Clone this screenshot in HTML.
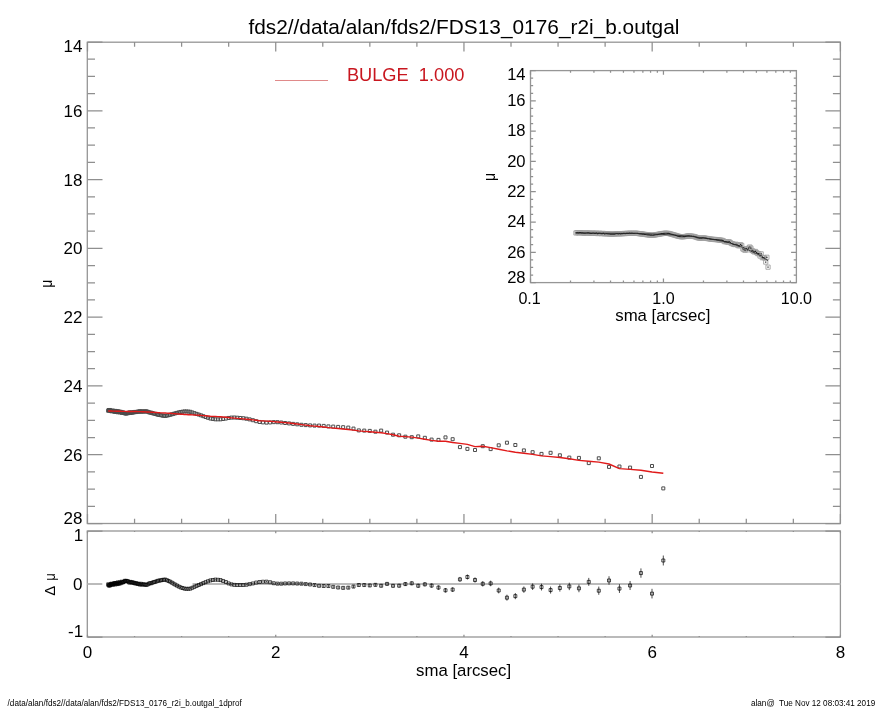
<!DOCTYPE html><html><head><meta charset="utf-8"><style>html,body{margin:0;padding:0;background:#fff;}svg{display:block}text{font-family:"Liberation Sans",Arial,Helvetica,sans-serif;}</style></head><body>
<svg width="885" height="708" viewBox="0 0 885 708">
<rect width="885" height="708" fill="#fff"/>
<rect x="87.3" y="42.2" width="753.1" height="481.3" stroke="#969696" stroke-width="1.3" fill="none"/>
<rect x="87.3" y="531" width="753.1" height="106" stroke="#969696" stroke-width="1.3" fill="none"/>
<path d="M87.5 523.5V513.9M87.5 42V51.6M134.56 523.5V518.7M134.56 42V46.8M181.61 523.5V518.7M181.61 42V46.8M228.67 523.5V518.7M228.67 42V46.8M275.73 523.5V513.9M275.73 42V51.6M322.78 523.5V518.7M322.78 42V46.8M369.84 523.5V518.7M369.84 42V46.8M416.89 523.5V518.7M416.89 42V46.8M463.95 523.5V513.9M463.95 42V51.6M511.01 523.5V518.7M511.01 42V46.8M558.06 523.5V518.7M558.06 42V46.8M605.12 523.5V518.7M605.12 42V46.8M652.17 523.5V513.9M652.17 42V51.6M699.23 523.5V518.7M699.23 42V46.8M746.29 523.5V518.7M746.29 42V46.8M793.34 523.5V518.7M793.34 42V46.8M840.4 523.5V513.9M840.4 42V51.6M87.5 42H102.5M840.4 42H825.4M87.5 59.2H95M840.4 59.2H832.9M87.5 76.39H95M840.4 76.39H832.9M87.5 93.59H95M840.4 93.59H832.9M87.5 110.79H102.5M840.4 110.79H825.4M87.5 127.98H95M840.4 127.98H832.9M87.5 145.18H95M840.4 145.18H832.9M87.5 162.38H95M840.4 162.38H832.9M87.5 179.57H102.5M840.4 179.57H825.4M87.5 196.77H95M840.4 196.77H832.9M87.5 213.96H95M840.4 213.96H832.9M87.5 231.16H95M840.4 231.16H832.9M87.5 248.36H102.5M840.4 248.36H825.4M87.5 265.55H95M840.4 265.55H832.9M87.5 282.75H95M840.4 282.75H832.9M87.5 299.95H95M840.4 299.95H832.9M87.5 317.14H102.5M840.4 317.14H825.4M87.5 334.34H95M840.4 334.34H832.9M87.5 351.54H95M840.4 351.54H832.9M87.5 368.73H95M840.4 368.73H832.9M87.5 385.93H102.5M840.4 385.93H825.4M87.5 403.13H95M840.4 403.13H832.9M87.5 420.32H95M840.4 420.32H832.9M87.5 437.52H95M840.4 437.52H832.9M87.5 454.71H102.5M840.4 454.71H825.4M87.5 471.91H95M840.4 471.91H832.9M87.5 489.11H95M840.4 489.11H832.9M87.5 506.3H95M840.4 506.3H832.9M87.5 523.5H102.5M840.4 523.5H825.4M87.5 637V634.8M87.5 531V533.2M134.56 637V635.9M134.56 531V532.1M181.61 637V635.9M181.61 531V532.1M228.67 637V635.9M228.67 531V532.1M275.73 637V634.8M275.73 531V533.2M322.78 637V635.9M322.78 531V532.1M369.84 637V635.9M369.84 531V532.1M416.89 637V635.9M416.89 531V532.1M463.95 637V634.8M463.95 531V533.2M511.01 637V635.9M511.01 531V532.1M558.06 637V635.9M558.06 531V532.1M605.12 637V635.9M605.12 531V532.1M652.17 637V634.8M652.17 531V533.2M699.23 637V635.9M699.23 531V532.1M746.29 637V635.9M746.29 531V532.1M793.34 637V635.9M793.34 531V532.1M840.4 637V634.8M840.4 531V533.2M87.5 531H102.5M840.4 531H825.4M87.5 637H102.5M840.4 637H825.4" stroke="#8f8f8f" stroke-width="1.25" fill="none"/>
<text x="82.5" y="51.6" font-size="17" text-anchor="end">14</text>
<text x="82.5" y="116.8" font-size="17" text-anchor="end">16</text>
<text x="82.5" y="185.6" font-size="17" text-anchor="end">18</text>
<text x="82.5" y="254.3" font-size="17" text-anchor="end">20</text>
<text x="82.5" y="323.1" font-size="17" text-anchor="end">22</text>
<text x="82.5" y="391.9" font-size="17" text-anchor="end">24</text>
<text x="82.5" y="460.6" font-size="17" text-anchor="end">26</text>
<text x="82.5" y="524.0" font-size="17" text-anchor="end">28</text>
<text x="87.5" y="657.8" font-size="17" text-anchor="middle">0</text>
<text x="275.73" y="657.8" font-size="17" text-anchor="middle">2</text>
<text x="463.95" y="657.8" font-size="17" text-anchor="middle">4</text>
<text x="652.17" y="657.8" font-size="17" text-anchor="middle">6</text>
<text x="840.4" y="657.8" font-size="17" text-anchor="middle">8</text>
<text x="463.6" y="676" font-size="16.8" text-anchor="middle">sma [arcsec]</text>
<text x="83.2" y="540.6" font-size="17" text-anchor="end">1</text>
<text x="82.5" y="590.3" font-size="17" text-anchor="end">0</text>
<text x="83.2" y="636.9" font-size="17" text-anchor="end">-1</text>
<text transform="translate(51.6,283.6) rotate(-90) scale(0.85,1)" font-size="16.5" text-anchor="middle">μ</text>
<text transform="translate(55.1,590.8) rotate(-90)" font-size="15" text-anchor="middle">Δ</text>
<text transform="translate(55.0,576.9) rotate(-90) scale(0.85,1)" font-size="15.5" text-anchor="middle">μ</text>
<text x="248.4" y="33.7" font-size="20.9" textLength="431" lengthAdjust="spacingAndGlyphs">fds2//data/alan/fds2/FDS13_0176_r2i_b.outgal</text>
<line x1="275" y1="80.5" x2="328" y2="80.5" stroke="#e08a8a" stroke-width="1.2"/>
<text x="346.9" y="80.6" font-size="18.4" fill="#c8161f" xml:space="preserve" textLength="117.6" lengthAdjust="spacingAndGlyphs">BULGE  1.000</text>
<path d="M87.5 584.0H102.3M192.5 584.0H840.4" stroke="#bbb" stroke-width="1.8" fill="none"/>
<path d="M106.67 409.25h3v3h-3zM107.09 408.5h3v3h-3zM107.51 408.97h3v3h-3zM107.94 408.71h3v3h-3zM108.38 408.48h3v3h-3zM108.83 409.06h3v3h-3zM109.28 409.18h3v3h-3zM109.75 409.75h3v3h-3zM110.22 409.59h3v3h-3zM110.71 409.4h3v3h-3zM111.2 409.26h3v3h-3zM111.71 409.19h3v3h-3zM112.22 409.76h3v3h-3zM112.75 410.21h3v3h-3zM113.28 410.03h3v3h-3zM113.83 409.39h3v3h-3zM114.38 410.29h3v3h-3zM114.95 410.1h3v3h-3zM115.53 409.62h3v3h-3zM116.12 410.77h3v3h-3zM116.72 410.19h3v3h-3zM117.34 409.88h3v3h-3zM117.96 410.81h3v3h-3zM118.6 410.54h3v3h-3zM119.25 410.26h3v3h-3zM119.92 411.31h3v3h-3zM120.6 411h3v3h-3zM121.29 410.89h3v3h-3zM122 411.13h3v3h-3zM122.72 411.52h3v3h-3zM123.45 411.99h3v3h-3zM124.2 411.81h3v3h-3zM124.96 411.95h3v3h-3zM125.74 411.7h3v3h-3zM126.54 411.71h3v3h-3zM127.35 411.04h3v3h-3zM128.17 410.99h3v3h-3zM129.02 411.38h3v3h-3zM129.88 410.95h3v3h-3zM130.76 411.14h3v3h-3zM131.65 410.84h3v3h-3zM132.56 410.83h3v3h-3zM133.5 410.41h3v3h-3zM134.45 410.6h3v3h-3zM135.41 410.4h3v3h-3zM136.4 410.06h3v3h-3zM137.41 410.23h3v3h-3zM138.44 409.69h3v3h-3zM139.49 410.28h3v3h-3zM140.56 409.81h3v3h-3zM141.65 410.05h3v3h-3zM142.76 410.02h3v3h-3zM143.9 409.86h3v3h-3zM145.05 409.92h3v3h-3zM146.24 410.21h3v3h-3zM147.44 410.82h3v3h-3zM148.67 411.13h3v3h-3zM149.92 411.22h3v3h-3zM151.2 411.74h3v3h-3zM152.5 412.1h3v3h-3zM153.83 412.41h3v3h-3zM155.19 412.81h3v3h-3zM156.58 413.29h3v3h-3zM157.99 413.51h3v3h-3zM159.43 413.73h3v3h-3zM160.9 414.07h3v3h-3zM162.39 414.27h3v3h-3zM163.92 414.41h3v3h-3zM165.48 414.06h3v3h-3zM167.07 413.69h3v3h-3zM168.69 413.3h3v3h-3zM170.34 412.82h3v3h-3zM172.03 412.33h3v3h-3zM173.75 411.83h3v3h-3zM175.51 411.37h3v3h-3zM177.3 410.89h3v3h-3zM179.12 410.48h3v3h-3zM180.99 410.22h3v3h-3zM182.88 409.95h3v3h-3zM184.82 409.95h3v3h-3zM186.8 410.07h3v3h-3zM188.82 410.29h3v3h-3zM190.87 410.98h3v3h-3zM192.97 411.68h3v3h-3zM195.11 412.38h3v3h-3zM197.29 413.09h3v3h-3zM199.52 413.84h3v3h-3zM201.79 414.67h3v3h-3zM204.1 415.49h3v3h-3zM206.46 416.29h3v3h-3zM208.87 417.03h3v3h-3zM211.33 417.44h3v3h-3zM213.84 417.81h3v3h-3zM216.39 417.84h3v3h-3zM219 417.8h3v3h-3zM221.66 417.48h3v3h-3zM224.38 417.06h3v3h-3zM227.14 416.44h3v3h-3zM229.97 416.1h3v3h-3zM232.85 416.02h3v3h-3zM235.78 416.21h3v3h-3zM238.78 416.48h3v3h-3zM241.83 416.75h3v3h-3zM244.95 417.21h3v3h-3zM248.13 417.88h3v3h-3zM251.37 418.71h3v3h-3zM254.68 419.7h3v3h-3zM258.05 420.47h3v3h-3zM261.49 420.89h3v3h-3zM265 421.12h3v3h-3zM268.58 420.96h3v3h-3zM272.24 420.64h3v3h-3zM275.96 420.7h3v3h-3zM279.76 421.01h3v3h-3zM283.63 421.51h3v3h-3zM287.59 421.91h3v3h-3zM291.62 422.39h3v3h-3zM295.73 422.82h3v3h-3zM299.93 423.29h3v3h-3zM304.2 423.6h3v3h-3zM308.57 423.9h3v3h-3zM313.02 424.1h3v3h-3zM317.56 424.1h3v3h-3zM322.19 424.4h3v3h-3zM326.92 424.9h3v3h-3zM331.73 425.1h3v3h-3zM336.65 425.4h3v3h-3zM341.66 425.7h3v3h-3zM346.77 426.1h3v3h-3zM351.99 427.1h3v3h-3zM357.31 428.9h3v3h-3zM362.74 429.1h3v3h-3zM368.27 429.4h3v3h-3zM373.92 430.2h3v3h-3zM379.67 429.1h3v3h-3zM385.55 431.1h3v3h-3zM391.54 433.2h3v3h-3zM397.65 433.8h3v3h-3zM403.88 435.2h3v3h-3zM410.24 435.7h3v3h-3zM416.72 434.9h3v3h-3zM423.34 436.3h3v3h-3zM430.09 438.1h3v3h-3zM436.97 438.4h3v3h-3zM443.99 435.9h3v3h-3zM451.15 437.7h3v3h-3zM458.45 445.6h3v3h-3zM465.9 447.4h3v3h-3zM473.5 448.5h3v3h-3zM481.25 444.7h3v3h-3zM489.15 447.6h3v3h-3zM497.21 443.8h3v3h-3zM505.44 441.2h3v3h-3zM513.83 443.5h3v3h-3zM522.38 448.9h3v3h-3zM531.11 450.7h3v3h-3zM540.01 452.4h3v3h-3zM549.09 451.3h3v3h-3zM558.36 453.8h3v3h-3zM567.8 456.1h3v3h-3zM577.44 456.4h3v3h-3zM587.27 461.6h3v3h-3zM597.29 456.8h3v3h-3zM607.52 465.4h3v3h-3zM617.95 465h3v3h-3zM628.59 466.1h3v3h-3zM639.44 475.4h3v3h-3zM650.51 464.5h3v3h-3zM661.8 486.9h3v3h-3z" stroke="#4c4c4c" stroke-width="1" fill="none"/>
<polyline points="108.17,410.96 108.59,410.97 109.01,410.99 109.44,411 109.88,411.01 110.33,411.02 110.78,411.04 111.25,411.05 111.72,411.06 112.21,411.08 112.7,411.09 113.21,411.11 113.72,411.12 114.25,411.14 114.78,411.15 115.33,411.17 115.88,411.18 116.45,411.2 117.03,411.22 117.62,411.23 118.22,411.25 118.84,411.27 119.46,411.28 120.1,411.3 120.75,411.32 121.42,411.33 122.1,411.34 122.79,411.36 123.5,411.37 124.22,411.38 124.95,411.4 125.7,411.41 126.46,411.43 127.24,411.44 128.04,411.46 128.85,411.48 129.67,411.49 130.52,411.51 131.38,411.51 132.26,411.52 133.15,411.53 134.06,411.54 135,411.55 135.95,411.56 136.91,411.57 137.9,411.58 138.91,411.59 139.94,411.6 140.99,411.65 142.06,411.7 143.15,411.76 144.26,411.81 145.4,411.87 146.55,411.93 147.74,411.99 148.94,412.05 150.17,412.11 151.42,412.2 152.7,412.29 154,412.38 155.33,412.47 156.69,412.57 158.08,412.67 159.49,412.76 160.93,412.85 162.4,412.92 163.89,412.99 165.42,413.07 166.98,413.15 168.57,413.23 170.19,413.32 171.84,413.46 173.53,413.6 175.25,413.75 177.01,413.9 178.8,414.05 180.62,414.19 182.49,414.31 184.38,414.44 186.32,414.56 188.3,414.69 190.32,414.82 192.37,414.92 194.47,415.02 196.61,415.13 198.79,415.24 201.02,415.39 203.29,415.6 205.6,415.8 207.96,416.02 210.37,416.22 212.83,416.34 215.34,416.47 217.89,416.59 220.5,416.75 223.16,417.02 225.88,417.29 228.64,417.56 231.47,417.83 234.35,418.09 237.28,418.36 240.28,418.62 243.33,418.9 246.45,419.18 249.63,419.47 252.87,419.86 256.18,420.27 259.55,420.69 262.99,420.91 266.5,421.11 270.08,421.31 273.74,421.64 277.46,421.97 281.26,422.31 285.13,422.66 289.09,423.02 293.12,423.51 297.23,424.04 301.43,424.59 305.7,425.14 310.07,425.71 314.52,426.11 319.06,426.52 323.69,427.04 328.42,427.61 333.23,428.09 338.15,428.53 343.16,429.02 348.27,429.53 353.49,430.15 358.81,430.85 364.24,431.34 369.77,431.78 375.42,432.23 381.17,432.76 387.05,433.59 393.04,434.73 399.15,436.2 405.38,436.67 411.74,437.17 418.22,438.17 424.84,439.3 431.59,440.41 438.47,441.3 445.49,441.21 452.65,442.52 459.95,443.39 467.4,444.43 475,446.6 482.75,446.2 490.65,447.63 498.71,449.24 506.94,450.89 515.33,452.25 523.88,453.25 532.61,454.32 541.51,455.92 550.59,456.65 559.86,457.49 569.3,458.8 578.94,460.42 588.77,461.21 598.79,462.09 609.02,464 619.45,468.64 630.09,469.41 640.94,470.25 652.01,472.02 663.3,473.26" stroke="#e01a1a" stroke-width="1.4" fill="none" stroke-linejoin="round"/>
<path d="M106.67 582.83h3v3h-3zM107.09 584.01h3v3h-3zM107.51 583.3h3v3h-3zM107.94 583.72h3v3h-3zM108.38 584.09h3v3h-3zM108.83 583.21h3v3h-3zM109.28 583.05h3v3h-3zM109.75 582.19h3v3h-3zM110.22 582.46h3v3h-3zM110.71 582.78h3v3h-3zM111.2 583.01h3v3h-3zM111.71 583.14h3v3h-3zM112.22 582.28h3v3h-3zM112.75 581.61h3v3h-3zM113.28 581.91h3v3h-3zM113.83 582.93h3v3h-3zM114.38 581.57h3v3h-3zM114.95 581.89h3v3h-3zM115.53 582.64h3v3h-3zM116.12 580.9h3v3h-3zM116.72 581.82h3v3h-3zM117.34 582.33h3v3h-3zM117.96 580.92h3v3h-3zM118.6 581.36h3v3h-3zM119.25 581.81h3v3h-3zM119.92 580.21h3v3h-3zM120.6 580.71h3v3h-3zM121.29 580.91h3v3h-3zM122 580.56h3v3h-3zM122.72 579.98h3v3h-3zM123.45 579.28h3v3h-3zM124.2 579.57h3v3h-3zM124.96 579.39h3v3h-3zM125.74 579.79h3v3h-3zM126.54 579.8h3v3h-3zM127.35 580.87h3v3h-3zM128.17 580.96h3v3h-3zM129.02 580.38h3v3h-3zM129.88 581.06h3v3h-3zM130.76 580.77h3v3h-3zM131.65 581.25h3v3h-3zM132.56 581.28h3v3h-3zM133.5 581.94h3v3h-3zM134.45 581.67h3v3h-3zM135.41 581.98h3v3h-3zM136.4 582.53h3v3h-3zM137.41 582.28h3v3h-3zM138.44 583.12h3v3h-3zM139.49 582.29h3v3h-3zM140.56 583.1h3v3h-3zM141.65 582.82h3v3h-3zM142.76 582.94h3v3h-3zM143.9 583.28h3v3h-3zM145.05 583.28h3v3h-3zM146.24 582.93h3v3h-3zM147.44 582.08h3v3h-3zM148.67 581.69h3v3h-3zM149.92 581.69h3v3h-3zM151.2 581.04h3v3h-3zM152.5 580.62h3v3h-3zM153.83 580.29h3v3h-3zM155.19 579.82h3v3h-3zM156.58 579.22h3v3h-3zM157.99 579.04h3v3h-3zM159.43 578.83h3v3h-3zM160.9 578.41h3v3h-3zM162.39 578.22h3v3h-3zM163.92 578.13h3v3h-3zM165.48 578.78h3v3h-3zM167.07 579.47h3v3h-3zM168.69 580.21h3v3h-3zM170.34 581.17h3v3h-3zM172.03 582.15h3v3h-3zM173.75 583.14h3v3h-3zM175.51 584.08h3v3h-3zM177.3 585.05h3v3h-3zM179.12 585.9h3v3h-3zM180.99 586.5h3v3h-3zM182.88 587.1h3v3h-3zM184.82 587.3h3v3h-3zM186.8 587.3h3v3h-3zM188.82 587.16h3v3h-3zM190.87 586.26h3v3h-3zM192.97 585.33h3v3h-3zM195.11 584.42h3v3h-3zM197.29 583.51h3v3h-3zM199.52 582.57h3v3h-3zM201.79 581.62h3v3h-3zM204.1 580.67h3v3h-3zM206.46 579.77h3v3h-3zM208.87 578.93h3v3h-3zM211.33 578.49h3v3h-3zM213.84 578.12h3v3h-3zM216.39 578.27h3v3h-3zM219 578.57h3v3h-3zM221.66 579.48h3v3h-3zM224.38 580.54h3v3h-3zM227.14 581.92h3v3h-3zM229.97 582.86h3v3h-3zM232.85 583.38h3v3h-3zM235.78 583.5h3v3h-3zM238.78 583.5h3v3h-3zM241.83 583.5h3v3h-3zM244.95 583.23h3v3h-3zM248.13 582.64h3v3h-3zM251.37 581.96h3v3h-3zM254.68 581.07h3v3h-3zM258.05 580.53h3v3h-3zM261.49 580.22h3v3h-3zM265 580.18h3v3h-3zM268.58 580.72h3v3h-3zM272.24 581.73h3v3h-3zM275.96 582.15h3v3h-3zM279.76 582.2h3v3h-3zM283.63 581.96h3v3h-3zM287.59 581.9h3v3h-3zM291.62 581.9h3v3h-3zM295.73 582.06h3v3h-3zM299.93 582.19h3v3h-3zM304.2 582.57h3v3h-3zM308.57 582.97h3v3h-3zM313.02 583.56h3v3h-3zM317.56 584.32h3v3h-3zM322.19 584.5h3v3h-3zM326.92 584.54h3v3h-3zM331.73 585.35h3v3h-3zM336.65 586.03h3v3h-3zM341.66 586.39h3v3h-3zM346.77 586.16h3v3h-3zM351.99 585.07h3v3h-3zM357.31 583.5h3v3h-3zM362.74 583.54h3v3h-3zM368.27 583.94h3v3h-3zM373.92 583.35h3v3h-3zM379.67 584.24h3v3h-3zM385.55 582.38h3v3h-3zM391.54 584.3h3v3h-3zM397.65 584.21h3v3h-3zM403.88 582.59h3v3h-3zM410.24 581.8h3v3h-3zM416.72 584.25h3v3h-3zM423.34 582.83h3v3h-3zM430.09 584.08h3v3h-3zM436.97 586.07h3v3h-3zM443.99 588.79h3v3h-3zM451.15 588.11h3v3h-3zM458.45 577.87h3v3h-3zM465.9 575.5h3v3h-3zM473.5 578.5h3v3h-3zM481.25 582.32h3v3h-3zM489.15 581.93h3v3h-3zM497.21 588.99h3v3h-3zM505.44 596.18h3v3h-3zM513.83 594.63h3v3h-3zM522.38 588.14h3v3h-3zM531.11 585.2h3v3h-3zM540.01 585.6h3v3h-3zM549.09 588.58h3v3h-3zM558.36 586.49h3v3h-3zM567.8 584.92h3v3h-3zM577.44 586.87h3v3h-3zM587.27 580.36h3v3h-3zM597.29 589.21h3v3h-3zM607.52 578.98h3v3h-3zM617.95 587.08h3v3h-3zM628.59 584h3v3h-3zM639.44 571.57h3v3h-3zM650.51 592.13h3v3h-3zM661.8 559h3v3h-3zM108.17 584.31V584.35M108.59 585.48V585.53M109.01 584.78V584.82M109.44 585.2V585.25M109.88 585.56V585.61M110.33 584.68V584.73M110.78 584.53V584.58M111.25 583.66V583.72M111.72 583.93V583.98M112.21 584.25V584.31M112.7 584.48V584.54M113.21 584.61V584.67M113.72 583.75V583.81M114.25 583.08V583.15M114.78 583.38V583.44M115.33 584.39V584.46M115.88 583.03V583.1M116.45 583.35V583.43M117.03 584.1V584.18M117.62 582.36V582.44M118.22 583.28V583.36M118.84 583.79V583.87M119.46 582.37V582.46M120.1 582.81V582.9M120.75 583.26V583.36M121.42 581.66V581.76M122.1 582.16V582.26M122.79 582.36V582.47M123.5 582V582.11M124.22 581.42V581.53M124.95 580.73V580.84M125.7 581.01V581.13M126.46 580.83V580.96M127.24 581.23V581.35M128.04 581.24V581.37M128.85 582.3V582.44M129.67 582.39V582.53M130.52 581.8V581.95M131.38 582.48V582.63M132.26 582.2V582.35M133.15 582.67V582.83M134.06 582.7V582.86M135 583.36V583.53M135.95 583.09V583.26M136.91 583.39V583.58M137.9 583.94V584.13M138.91 583.69V583.88M139.94 584.52V584.72M140.99 583.69V583.9M142.06 584.49V584.71M143.15 584.21V584.43M144.26 584.33V584.56M145.4 584.66V584.9M146.55 584.66V584.9M147.74 584.3V584.55M148.94 583.45V583.71M150.17 583.06V583.33M151.42 583.05V583.33M152.7 582.39V582.68M154 581.98V582.27M155.33 581.64V581.94M156.69 581.16V581.48M158.08 580.56V580.88M159.49 580.37V580.71M160.93 580.15V580.5M162.4 579.73V580.09M163.89 579.54V579.91M165.42 579.44V579.82M166.98 580.08V580.48M168.57 580.77V581.17M170.19 581.5V581.92M171.84 582.45V582.89M173.53 583.42V583.87M175.25 584.4V584.87M177.01 585.34V585.82M178.8 586.3V586.8M180.62 587.14V587.65M182.49 587.73V588.26M184.38 588.33V588.88M186.32 588.52V589.08M188.3 588.51V589.09M190.32 588.36V588.96M192.37 587.45V588.07M194.47 586.51V587.15M196.61 585.59V586.26M198.79 584.67V585.35M201.02 583.72V584.43M203.29 582.76V583.48M205.6 581.79V582.55M207.96 580.88V581.66M210.37 580.03V580.83M212.83 579.58V580.41M215.34 579.19V580.05M217.89 579.33V580.22M220.5 579.61V580.53M223.16 580.5V581.45M225.88 581.55V582.53M228.64 582.92V583.92M231.47 583.84V584.88M234.35 584.35V585.42M237.28 584.45V585.55M240.28 584.43V585.57M243.33 584.41V585.59M246.45 584.12V585.34M249.63 583.51V584.77M252.87 582.81V584.11M256.18 581.9V583.24M259.55 581.34V582.73M262.99 581V582.44M266.5 580.93V582.42M270.08 581.46V582.99M273.74 582.44V584.02M277.46 582.83V584.46M281.26 582.86V584.54M285.13 582.59V584.34M289.09 582.5V584.3M293.12 582.47V584.33M297.23 582.6V584.52M301.43 582.69V584.68M305.7 583.05V585.09M310.07 583.41V585.53M314.52 583.96V586.15M319.06 584.69V586.94M323.69 584.83V587.17M328.42 584.83V587.24M333.23 585.6V588.09M338.15 586.24V588.81M343.16 586.57V589.22M348.27 586.29V589.03M353.49 585.16V587.99M358.81 583.54V586.46M364.24 583.53V586.55M369.77 583.89V587M375.42 583.24V586.46M381.17 584.08V587.4M387.05 582.17V585.6M393.04 584.03V587.57M399.15 583.88V587.54M405.38 582.2V585.98M411.74 581.34V585.25M418.22 583.73V587.77M424.84 582.24V586.41M431.59 583.43V587.73M438.47 585.35V589.79M445.49 588V592.59M452.65 587.24V591.98M459.95 576.92V581.82M467.4 574.47V579.53M475 577.39V582.61M482.75 581.13V586.52M490.65 580.65V586.22M498.71 587.61V593.37M506.94 594.71V600.65M515.33 593.06V599.19M523.88 586.47V592.81M532.61 583.43V589.98M541.51 583.72V590.48M550.59 586.59V593.57M559.86 584.38V591.6M569.3 582.7V590.15M578.94 584.53V592.22M588.77 577.89V585.83M598.79 586.6V594.81M609.02 576.24V584.72M619.45 584.2V592.96M630.09 580.98V590.02M640.94 568.4V577.74M652.01 588.81V598.45M663.3 555.52V565.48" stroke="#000" stroke-width="0.7" fill="none"/>
<rect x="530.5" y="70.6" width="265.9" height="212" stroke="#969696" stroke-width="1.3" fill="none"/>
<path d="M530.5 282.6V278.4M530.5 70.6V74.8M570.52 282.6V280.5M570.52 70.6V72.7M593.93 282.6V280.5M593.93 70.6V72.7M610.54 282.6V280.5M610.54 70.6V72.7M623.43 282.6V280.5M623.43 70.6V72.7M633.96 282.6V280.5M633.96 70.6V72.7M642.86 282.6V280.5M642.86 70.6V72.7M650.57 282.6V280.5M650.57 70.6V72.7M657.37 282.6V280.5M657.37 70.6V72.7M663.45 282.6V278.4M663.45 70.6V74.8M703.47 282.6V280.5M703.47 70.6V72.7M726.88 282.6V280.5M726.88 70.6V72.7M743.49 282.6V280.5M743.49 70.6V72.7M756.38 282.6V280.5M756.38 70.6V72.7M766.91 282.6V280.5M766.91 70.6V72.7M775.81 282.6V280.5M775.81 70.6V72.7M783.52 282.6V280.5M783.52 70.6V72.7M790.32 282.6V280.5M790.32 70.6V72.7M530.5 70.6H535.8M796.4 70.6H791.1M530.5 78.17H533.15M796.4 78.17H793.75M530.5 85.74H533.15M796.4 85.74H793.75M530.5 93.31H533.15M796.4 93.31H793.75M530.5 100.89H535.8M796.4 100.89H791.1M530.5 108.46H533.15M796.4 108.46H793.75M530.5 116.03H533.15M796.4 116.03H793.75M530.5 123.6H533.15M796.4 123.6H793.75M530.5 131.17H535.8M796.4 131.17H791.1M530.5 138.74H533.15M796.4 138.74H793.75M530.5 146.31H533.15M796.4 146.31H793.75M530.5 153.89H533.15M796.4 153.89H793.75M530.5 161.46H535.8M796.4 161.46H791.1M530.5 169.03H533.15M796.4 169.03H793.75M530.5 176.6H533.15M796.4 176.6H793.75M530.5 184.17H533.15M796.4 184.17H793.75M530.5 191.74H535.8M796.4 191.74H791.1M530.5 199.31H533.15M796.4 199.31H793.75M530.5 206.89H533.15M796.4 206.89H793.75M530.5 214.46H533.15M796.4 214.46H793.75M530.5 222.03H535.8M796.4 222.03H791.1M530.5 229.6H533.15M796.4 229.6H793.75M530.5 237.17H533.15M796.4 237.17H793.75M530.5 244.74H533.15M796.4 244.74H793.75M530.5 252.31H535.8M796.4 252.31H791.1M530.5 259.89H533.15M796.4 259.89H793.75M530.5 267.46H533.15M796.4 267.46H793.75M530.5 275.03H533.15M796.4 275.03H793.75M530.5 282.6H535.8M796.4 282.6H791.1" stroke="#8f8f8f" stroke-width="1.25" fill="none"/>
<text x="525.6" y="80.0" font-size="16.6" text-anchor="end">14</text>
<text x="525.6" y="105.9" font-size="16.6" text-anchor="end">16</text>
<text x="525.6" y="136.2" font-size="16.6" text-anchor="end">18</text>
<text x="525.6" y="166.8" font-size="16.6" text-anchor="end">20</text>
<text x="525.6" y="197.1" font-size="16.6" text-anchor="end">22</text>
<text x="525.6" y="227.4" font-size="16.6" text-anchor="end">24</text>
<text x="525.6" y="257.7" font-size="16.6" text-anchor="end">26</text>
<text x="525.6" y="283.2" font-size="16.6" text-anchor="end">28</text>
<text x="529.6" y="303.7" font-size="16.1" text-anchor="middle">0.1</text>
<text x="663.45" y="303.7" font-size="16.1" text-anchor="middle">1.0</text>
<text x="796.4" y="303.7" font-size="16.1" text-anchor="middle">10.0</text>
<text x="662.8" y="321.2" font-size="16.8" text-anchor="middle">sma [arcsec]</text>
<text transform="translate(494.9,177.05) rotate(-90) scale(0.85,1)" font-size="16.5" text-anchor="middle">μ</text>
<path d="M573.84 230.86h4.2v4.2h-4.2zM574.99 230.53h4.2v4.2h-4.2zM576.13 230.73h4.2v4.2h-4.2zM577.27 230.62h4.2v4.2h-4.2zM578.42 230.52h4.2v4.2h-4.2zM579.56 230.78h4.2v4.2h-4.2zM580.7 230.83h4.2v4.2h-4.2zM581.85 231.08h4.2v4.2h-4.2zM582.99 231.01h4.2v4.2h-4.2zM584.13 230.92h4.2v4.2h-4.2zM585.28 230.86h4.2v4.2h-4.2zM586.42 230.83h4.2v4.2h-4.2zM587.56 231.08h4.2v4.2h-4.2zM588.71 231.28h4.2v4.2h-4.2zM589.85 231.2h4.2v4.2h-4.2zM590.99 230.92h4.2v4.2h-4.2zM592.14 231.31h4.2v4.2h-4.2zM593.28 231.23h4.2v4.2h-4.2zM594.42 231.02h4.2v4.2h-4.2zM595.57 231.53h4.2v4.2h-4.2zM596.71 231.27h4.2v4.2h-4.2zM597.85 231.13h4.2v4.2h-4.2zM599 231.55h4.2v4.2h-4.2zM600.14 231.43h4.2v4.2h-4.2zM601.28 231.3h4.2v4.2h-4.2zM602.43 231.77h4.2v4.2h-4.2zM603.57 231.63h4.2v4.2h-4.2zM604.71 231.58h4.2v4.2h-4.2zM605.86 231.69h4.2v4.2h-4.2zM607 231.86h4.2v4.2h-4.2zM608.14 232.06h4.2v4.2h-4.2zM609.29 231.99h4.2v4.2h-4.2zM610.43 232.04h4.2v4.2h-4.2zM611.57 231.94h4.2v4.2h-4.2zM612.72 231.94h4.2v4.2h-4.2zM613.86 231.64h4.2v4.2h-4.2zM615 231.62h4.2v4.2h-4.2zM616.15 231.8h4.2v4.2h-4.2zM617.29 231.61h4.2v4.2h-4.2zM618.43 231.69h4.2v4.2h-4.2zM619.58 231.56h4.2v4.2h-4.2zM620.72 231.55h4.2v4.2h-4.2zM621.86 231.37h4.2v4.2h-4.2zM623.01 231.45h4.2v4.2h-4.2zM624.15 231.37h4.2v4.2h-4.2zM625.29 231.21h4.2v4.2h-4.2zM626.44 231.29h4.2v4.2h-4.2zM627.58 231.05h4.2v4.2h-4.2zM628.72 231.31h4.2v4.2h-4.2zM629.87 231.11h4.2v4.2h-4.2zM631.01 231.21h4.2v4.2h-4.2zM632.15 231.2h4.2v4.2h-4.2zM633.3 231.13h4.2v4.2h-4.2zM634.44 231.15h4.2v4.2h-4.2zM635.58 231.28h4.2v4.2h-4.2zM636.73 231.55h4.2v4.2h-4.2zM637.87 231.69h4.2v4.2h-4.2zM639.02 231.73h4.2v4.2h-4.2zM640.16 231.95h4.2v4.2h-4.2zM641.3 232.11h4.2v4.2h-4.2zM642.45 232.25h4.2v4.2h-4.2zM643.59 232.42h4.2v4.2h-4.2zM644.73 232.64h4.2v4.2h-4.2zM645.88 232.73h4.2v4.2h-4.2zM647.02 232.83h4.2v4.2h-4.2zM648.16 232.98h4.2v4.2h-4.2zM649.31 233.07h4.2v4.2h-4.2zM650.45 233.13h4.2v4.2h-4.2zM651.59 232.98h4.2v4.2h-4.2zM652.74 232.81h4.2v4.2h-4.2zM653.88 232.64h4.2v4.2h-4.2zM655.02 232.43h4.2v4.2h-4.2zM656.17 232.21h4.2v4.2h-4.2zM657.31 231.99h4.2v4.2h-4.2zM658.45 231.79h4.2v4.2h-4.2zM659.6 231.58h4.2v4.2h-4.2zM660.74 231.4h4.2v4.2h-4.2zM661.88 231.28h4.2v4.2h-4.2zM663.03 231.16h4.2v4.2h-4.2zM664.17 231.16h4.2v4.2h-4.2zM665.31 231.22h4.2v4.2h-4.2zM666.46 231.32h4.2v4.2h-4.2zM667.6 231.62h4.2v4.2h-4.2zM668.74 231.93h4.2v4.2h-4.2zM669.89 232.24h4.2v4.2h-4.2zM671.03 232.55h4.2v4.2h-4.2zM672.17 232.88h4.2v4.2h-4.2zM673.32 233.24h4.2v4.2h-4.2zM674.46 233.61h4.2v4.2h-4.2zM675.6 233.96h4.2v4.2h-4.2zM676.75 234.28h4.2v4.2h-4.2zM677.89 234.46h4.2v4.2h-4.2zM679.03 234.63h4.2v4.2h-4.2zM680.18 234.64h4.2v4.2h-4.2zM681.32 234.62h4.2v4.2h-4.2zM682.46 234.48h4.2v4.2h-4.2zM683.61 234.3h4.2v4.2h-4.2zM684.75 234.02h4.2v4.2h-4.2zM685.89 233.87h4.2v4.2h-4.2zM687.04 233.84h4.2v4.2h-4.2zM688.18 233.92h4.2v4.2h-4.2zM689.32 234.04h4.2v4.2h-4.2zM690.47 234.16h4.2v4.2h-4.2zM691.61 234.36h4.2v4.2h-4.2zM692.75 234.65h4.2v4.2h-4.2zM693.9 235.02h4.2v4.2h-4.2zM695.04 235.46h4.2v4.2h-4.2zM696.18 235.8h4.2v4.2h-4.2zM697.33 235.98h4.2v4.2h-4.2zM698.47 236.08h4.2v4.2h-4.2zM699.61 236.01h4.2v4.2h-4.2zM700.76 235.87h4.2v4.2h-4.2zM701.9 235.9h4.2v4.2h-4.2zM703.05 236.03h4.2v4.2h-4.2zM704.19 236.25h4.2v4.2h-4.2zM705.33 236.43h4.2v4.2h-4.2zM706.48 236.64h4.2v4.2h-4.2zM707.62 236.83h4.2v4.2h-4.2zM708.76 237.04h4.2v4.2h-4.2zM709.91 237.17h4.2v4.2h-4.2zM711.05 237.31h4.2v4.2h-4.2zM712.19 237.4h4.2v4.2h-4.2zM713.34 237.4h4.2v4.2h-4.2zM714.48 237.53h4.2v4.2h-4.2zM715.62 237.75h4.2v4.2h-4.2zM716.77 237.84h4.2v4.2h-4.2zM717.91 237.97h4.2v4.2h-4.2zM719.05 238.1h4.2v4.2h-4.2zM720.2 238.28h4.2v4.2h-4.2zM721.34 238.72h4.2v4.2h-4.2zM722.48 239.51h4.2v4.2h-4.2zM723.63 239.6h4.2v4.2h-4.2zM724.77 239.73h4.2v4.2h-4.2zM725.91 240.08h4.2v4.2h-4.2zM727.06 239.6h4.2v4.2h-4.2zM728.2 240.48h4.2v4.2h-4.2zM729.34 241.4h4.2v4.2h-4.2zM730.49 241.67h4.2v4.2h-4.2zM731.63 242.28h4.2v4.2h-4.2zM732.77 242.5h4.2v4.2h-4.2zM733.92 242.15h4.2v4.2h-4.2zM735.06 242.77h4.2v4.2h-4.2zM736.2 243.56h4.2v4.2h-4.2zM737.35 243.69h4.2v4.2h-4.2zM738.49 242.59h4.2v4.2h-4.2zM739.63 243.38h4.2v4.2h-4.2zM740.78 246.86h4.2v4.2h-4.2zM741.92 247.65h4.2v4.2h-4.2zM743.06 248.14h4.2v4.2h-4.2zM744.21 246.47h4.2v4.2h-4.2zM745.35 247.74h4.2v4.2h-4.2zM746.49 246.07h4.2v4.2h-4.2zM747.64 244.92h4.2v4.2h-4.2zM748.78 245.94h4.2v4.2h-4.2zM749.92 248.31h4.2v4.2h-4.2zM751.07 249.11h4.2v4.2h-4.2zM752.21 249.86h4.2v4.2h-4.2zM753.35 249.37h4.2v4.2h-4.2zM754.5 250.47h4.2v4.2h-4.2zM755.64 251.48h4.2v4.2h-4.2zM756.78 251.62h4.2v4.2h-4.2zM757.93 253.91h4.2v4.2h-4.2zM759.07 251.79h4.2v4.2h-4.2zM760.21 255.58h4.2v4.2h-4.2zM761.36 255.4h4.2v4.2h-4.2zM762.5 255.89h4.2v4.2h-4.2zM763.64 259.98h4.2v4.2h-4.2zM764.79 255.18h4.2v4.2h-4.2zM765.93 265.05h4.2v4.2h-4.2z" stroke="#a0a0a0" stroke-width="0.9" fill="none"/>
<path d="M575.34 232.36h1.2v1.2h-1.2zM576.49 232.03h1.2v1.2h-1.2zM577.63 232.23h1.2v1.2h-1.2zM578.77 232.12h1.2v1.2h-1.2zM579.92 232.02h1.2v1.2h-1.2zM581.06 232.28h1.2v1.2h-1.2zM582.2 232.33h1.2v1.2h-1.2zM583.35 232.58h1.2v1.2h-1.2zM584.49 232.51h1.2v1.2h-1.2zM585.63 232.42h1.2v1.2h-1.2zM586.78 232.36h1.2v1.2h-1.2zM587.92 232.33h1.2v1.2h-1.2zM589.06 232.58h1.2v1.2h-1.2zM590.21 232.78h1.2v1.2h-1.2zM591.35 232.7h1.2v1.2h-1.2zM592.49 232.42h1.2v1.2h-1.2zM593.64 232.81h1.2v1.2h-1.2zM594.78 232.73h1.2v1.2h-1.2zM595.92 232.52h1.2v1.2h-1.2zM597.07 233.03h1.2v1.2h-1.2zM598.21 232.77h1.2v1.2h-1.2zM599.35 232.63h1.2v1.2h-1.2zM600.5 233.05h1.2v1.2h-1.2zM601.64 232.93h1.2v1.2h-1.2zM602.78 232.8h1.2v1.2h-1.2zM603.93 233.27h1.2v1.2h-1.2zM605.07 233.13h1.2v1.2h-1.2zM606.21 233.08h1.2v1.2h-1.2zM607.36 233.19h1.2v1.2h-1.2zM608.5 233.36h1.2v1.2h-1.2zM609.64 233.56h1.2v1.2h-1.2zM610.79 233.49h1.2v1.2h-1.2zM611.93 233.54h1.2v1.2h-1.2zM613.07 233.44h1.2v1.2h-1.2zM614.22 233.44h1.2v1.2h-1.2zM615.36 233.14h1.2v1.2h-1.2zM616.5 233.12h1.2v1.2h-1.2zM617.65 233.3h1.2v1.2h-1.2zM618.79 233.11h1.2v1.2h-1.2zM619.93 233.19h1.2v1.2h-1.2zM621.08 233.06h1.2v1.2h-1.2zM622.22 233.05h1.2v1.2h-1.2zM623.36 232.87h1.2v1.2h-1.2zM624.51 232.95h1.2v1.2h-1.2zM625.65 232.87h1.2v1.2h-1.2zM626.79 232.71h1.2v1.2h-1.2zM627.94 232.79h1.2v1.2h-1.2zM629.08 232.55h1.2v1.2h-1.2zM630.22 232.81h1.2v1.2h-1.2zM631.37 232.61h1.2v1.2h-1.2zM632.51 232.71h1.2v1.2h-1.2zM633.65 232.7h1.2v1.2h-1.2zM634.8 232.63h1.2v1.2h-1.2zM635.94 232.65h1.2v1.2h-1.2zM637.08 232.78h1.2v1.2h-1.2zM638.23 233.05h1.2v1.2h-1.2zM639.37 233.19h1.2v1.2h-1.2zM640.52 233.23h1.2v1.2h-1.2zM641.66 233.45h1.2v1.2h-1.2zM642.8 233.61h1.2v1.2h-1.2zM643.95 233.75h1.2v1.2h-1.2zM645.09 233.92h1.2v1.2h-1.2zM646.23 234.14h1.2v1.2h-1.2zM647.38 234.23h1.2v1.2h-1.2zM648.52 234.33h1.2v1.2h-1.2zM649.66 234.48h1.2v1.2h-1.2zM650.81 234.57h1.2v1.2h-1.2zM651.95 234.63h1.2v1.2h-1.2zM653.09 234.48h1.2v1.2h-1.2zM654.24 234.31h1.2v1.2h-1.2zM655.38 234.14h1.2v1.2h-1.2zM656.52 233.93h1.2v1.2h-1.2zM657.67 233.71h1.2v1.2h-1.2zM658.81 233.49h1.2v1.2h-1.2zM659.95 233.29h1.2v1.2h-1.2zM661.1 233.08h1.2v1.2h-1.2zM662.24 232.9h1.2v1.2h-1.2zM663.38 232.78h1.2v1.2h-1.2zM664.53 232.66h1.2v1.2h-1.2zM665.67 232.66h1.2v1.2h-1.2zM666.81 232.72h1.2v1.2h-1.2zM667.96 232.82h1.2v1.2h-1.2zM669.1 233.12h1.2v1.2h-1.2zM670.24 233.43h1.2v1.2h-1.2zM671.39 233.74h1.2v1.2h-1.2zM672.53 234.05h1.2v1.2h-1.2zM673.67 234.38h1.2v1.2h-1.2zM674.82 234.74h1.2v1.2h-1.2zM675.96 235.11h1.2v1.2h-1.2zM677.1 235.46h1.2v1.2h-1.2zM678.25 235.78h1.2v1.2h-1.2zM679.39 235.96h1.2v1.2h-1.2zM680.53 236.13h1.2v1.2h-1.2zM681.68 236.14h1.2v1.2h-1.2zM682.82 236.12h1.2v1.2h-1.2zM683.96 235.98h1.2v1.2h-1.2zM685.11 235.8h1.2v1.2h-1.2zM686.25 235.52h1.2v1.2h-1.2zM687.39 235.37h1.2v1.2h-1.2zM688.54 235.34h1.2v1.2h-1.2zM689.68 235.42h1.2v1.2h-1.2zM690.82 235.54h1.2v1.2h-1.2zM691.97 235.66h1.2v1.2h-1.2zM693.11 235.86h1.2v1.2h-1.2zM694.25 236.15h1.2v1.2h-1.2zM695.4 236.52h1.2v1.2h-1.2zM696.54 236.96h1.2v1.2h-1.2zM697.68 237.3h1.2v1.2h-1.2zM698.83 237.48h1.2v1.2h-1.2zM699.97 237.58h1.2v1.2h-1.2zM701.11 237.51h1.2v1.2h-1.2zM702.26 237.37h1.2v1.2h-1.2zM703.4 237.4h1.2v1.2h-1.2zM704.55 237.53h1.2v1.2h-1.2zM705.69 237.75h1.2v1.2h-1.2zM706.83 237.93h1.2v1.2h-1.2zM707.98 238.14h1.2v1.2h-1.2zM709.12 238.33h1.2v1.2h-1.2zM710.26 238.54h1.2v1.2h-1.2zM711.41 238.67h1.2v1.2h-1.2zM712.55 238.81h1.2v1.2h-1.2zM713.69 238.9h1.2v1.2h-1.2zM714.84 238.9h1.2v1.2h-1.2zM715.98 239.03h1.2v1.2h-1.2zM717.12 239.25h1.2v1.2h-1.2zM718.27 239.34h1.2v1.2h-1.2zM719.41 239.47h1.2v1.2h-1.2zM720.55 239.6h1.2v1.2h-1.2zM721.7 239.78h1.2v1.2h-1.2zM722.84 240.22h1.2v1.2h-1.2zM723.98 241.01h1.2v1.2h-1.2zM725.13 241.1h1.2v1.2h-1.2zM726.27 241.23h1.2v1.2h-1.2zM727.41 241.58h1.2v1.2h-1.2zM728.56 241.1h1.2v1.2h-1.2zM729.7 241.98h1.2v1.2h-1.2zM730.84 242.9h1.2v1.2h-1.2zM731.99 243.17h1.2v1.2h-1.2zM733.13 243.78h1.2v1.2h-1.2zM734.27 244h1.2v1.2h-1.2zM735.42 243.65h1.2v1.2h-1.2zM736.56 244.27h1.2v1.2h-1.2zM737.7 245.06h1.2v1.2h-1.2zM738.85 245.19h1.2v1.2h-1.2zM739.99 244.09h1.2v1.2h-1.2zM741.13 244.88h1.2v1.2h-1.2zM742.28 248.36h1.2v1.2h-1.2zM743.42 249.15h1.2v1.2h-1.2zM744.56 249.64h1.2v1.2h-1.2zM745.71 247.97h1.2v1.2h-1.2zM746.85 249.24h1.2v1.2h-1.2zM747.99 247.57h1.2v1.2h-1.2zM749.14 246.42h1.2v1.2h-1.2zM750.28 247.44h1.2v1.2h-1.2zM751.42 249.81h1.2v1.2h-1.2zM752.57 250.61h1.2v1.2h-1.2zM753.71 251.36h1.2v1.2h-1.2zM754.85 250.87h1.2v1.2h-1.2zM756 251.97h1.2v1.2h-1.2zM757.14 252.98h1.2v1.2h-1.2zM758.28 253.12h1.2v1.2h-1.2zM759.43 255.41h1.2v1.2h-1.2zM760.57 253.29h1.2v1.2h-1.2zM761.71 257.08h1.2v1.2h-1.2zM762.86 256.9h1.2v1.2h-1.2zM764 257.39h1.2v1.2h-1.2zM765.14 261.48h1.2v1.2h-1.2zM766.29 256.68h1.2v1.2h-1.2zM767.43 266.55h1.2v1.2h-1.2z" fill="#222" stroke="none"/>
<polyline points="575.94,233.05 577.09,233.06 578.23,233.06 579.37,233.07 580.52,233.07 581.66,233.08 582.8,233.08 583.95,233.09 585.09,233.1 586.23,233.1 587.38,233.11 588.52,233.11 589.66,233.12 590.81,233.13 591.95,233.13 593.09,233.14 594.24,233.15 595.38,233.15 596.52,233.16 597.67,233.17 598.81,233.18 599.95,233.18 601.1,233.19 602.24,233.2 603.38,233.21 604.53,233.21 605.67,233.22 606.81,233.22 607.96,233.23 609.1,233.24 610.24,233.24 611.39,233.25 612.53,233.26 613.67,233.26 614.82,233.27 615.96,233.28 617.1,233.28 618.25,233.29 619.39,233.29 620.53,233.3 621.68,233.3 622.82,233.31 623.96,233.31 625.11,233.31 626.25,233.32 627.39,233.32 628.54,233.33 629.68,233.33 630.82,233.35 631.97,233.38 633.11,233.4 634.25,233.43 635.4,233.45 636.54,233.48 637.68,233.5 638.83,233.53 639.97,233.56 641.12,233.6 642.26,233.63 643.4,233.68 644.55,233.72 645.69,233.76 646.83,233.8 647.98,233.84 649.12,233.88 650.26,233.91 651.41,233.95 652.55,233.98 653.69,234.01 654.84,234.05 655.98,234.09 657.12,234.15 658.27,234.21 659.41,234.28 660.55,234.34 661.7,234.41 662.84,234.47 663.98,234.53 665.13,234.58 666.27,234.64 667.41,234.69 668.56,234.75 669.7,234.79 670.84,234.84 671.99,234.89 673.13,234.93 674.27,235 675.42,235.09 676.56,235.18 677.7,235.28 678.85,235.37 679.99,235.42 681.13,235.47 682.28,235.53 683.42,235.6 684.56,235.72 685.71,235.84 686.85,235.96 687.99,236.08 689.14,236.19 690.28,236.31 691.42,236.42 692.57,236.55 693.71,236.67 694.85,236.8 696,236.97 697.14,237.15 698.28,237.34 699.43,237.43 700.57,237.52 701.71,237.61 702.86,237.75 704,237.9 705.15,238.05 706.29,238.2 707.43,238.36 708.58,238.57 709.72,238.81 710.86,239.05 712.01,239.29 713.15,239.54 714.29,239.72 715.44,239.9 716.58,240.13 717.72,240.38 718.87,240.59 720.01,240.79 721.15,241 722.3,241.22 723.44,241.5 724.58,241.8 725.73,242.02 726.87,242.22 728.01,242.42 729.16,242.65 730.3,243.01 731.44,243.52 732.59,244.16 733.73,244.37 734.87,244.59 736.02,245.03 737.16,245.53 738.3,246.01 739.45,246.41 740.59,246.37 741.73,246.94 742.88,247.33 744.02,247.79 745.16,248.74 746.31,248.57 747.45,249.2 748.59,249.91 749.74,250.63 750.88,251.23 752.02,251.67 753.17,252.14 754.31,252.85 755.45,253.17 756.6,253.54 757.74,254.11 758.88,254.83 760.03,255.18 761.17,255.56 762.31,256.4 763.46,258.44 764.6,258.78 765.74,259.15 766.89,259.93 768.03,260.48" stroke="#2a2a2a" stroke-width="0.9" fill="none" stroke-linejoin="round"/>
<text x="7.6" y="706.2" font-size="8.9" textLength="234.3" lengthAdjust="spacingAndGlyphs">/data/alan/fds2//data/alan/fds2/FDS13_0176_r2i_b.outgal_1dprof</text>
<text x="751" y="706.2" font-size="8.9" textLength="124.2" lengthAdjust="spacingAndGlyphs" xml:space="preserve">alan@  Tue Nov 12 08:03:41 2019</text>
</svg></body></html>
